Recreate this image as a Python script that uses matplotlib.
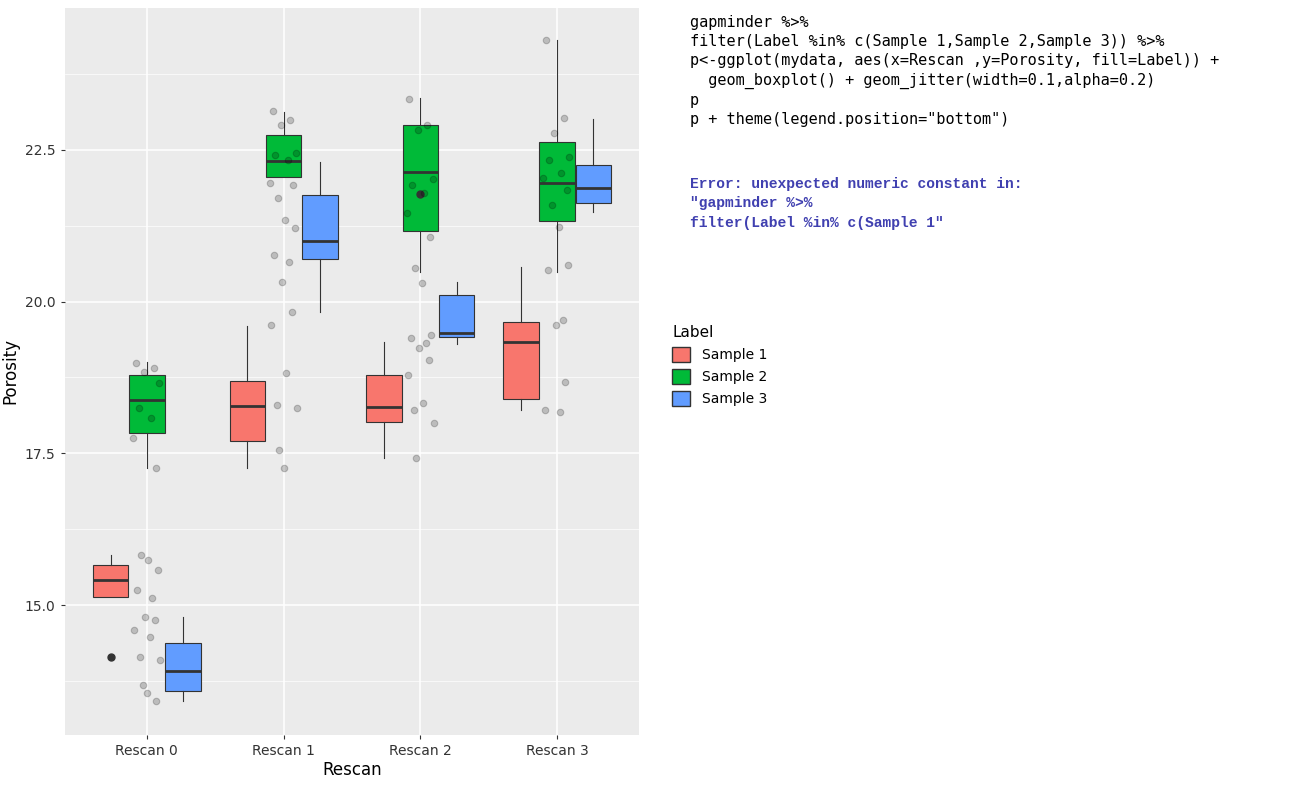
import numpy as np
import matplotlib.pyplot as plt
from matplotlib.patches import Patch

rescans = ["Rescan 0", "Rescan 1", "Rescan 2", "Rescan 3"]
labels = ["Sample 1", "Sample 2", "Sample 3"]
colors = ["#F8766D", "#00BA38", "#619CFF"]

# box stats per rescan, per sample: (whislo, q1, med, q3, whishi, outliers)
stats = {
    "Sample 1": [(15.13, 15.13, 15.41, 15.66, 15.82, [14.14]),
                 (17.26, 17.70, 18.28, 18.69, 19.60, []),
                 (17.42, 18.02, 18.26, 18.79, 19.34, []),
                 (18.21, 18.40, 19.33, 19.66, 20.57, [])],
    "Sample 2": [(17.26, 17.83, 18.38, 18.79, 19.00, []),
                 (22.05, 22.05, 22.32, 22.75, 23.13, []),
                 (20.49, 21.16, 22.14, 22.90, 23.36, [21.77]),
                 (20.49, 21.33, 21.96, 22.62, 24.31, [])],
    "Sample 3": [(13.42, 13.58, 13.91, 14.37, 14.80, []),
                 (19.83, 20.70, 21.00, 21.76, 22.30, []),
                 (19.30, 19.42, 19.48, 20.11, 20.32, []),
                 (21.48, 21.63, 21.87, 22.25, 23.01, [])],
}

jitter_y = [
    [18.99, 18.91, 18.84, 18.66, 18.25, 18.08, 17.75, 17.26, 15.82, 15.74, 15.58,
     15.25, 15.12, 14.80, 14.75, 14.59, 14.47, 14.14, 14.09, 13.68, 13.55, 13.42],
    [23.14, 22.99, 22.91, 22.45, 22.42, 22.33, 21.96, 21.92, 21.71, 21.35, 21.21,
     20.77, 20.65, 20.32, 19.83, 19.62, 18.82, 18.30, 18.25, 17.55, 17.26],
    [23.34, 22.91, 22.83, 22.01, 21.92, 21.79, 21.46, 21.07, 20.55, 20.31, 19.45,
     19.40, 19.32, 19.24, 19.04, 18.79, 18.33, 18.21, 18.00, 17.42],
    [24.31, 23.03, 22.78, 22.38, 22.33, 22.12, 22.04, 21.84, 21.59, 21.23, 20.60,
     20.52, 19.70, 19.62, 18.68, 18.21, 18.18],
]
jitter_dx = [-0.08, 0.05, -0.02, 0.09, -0.06, 0.03, -0.1, 0.07, -0.04, 0.01, 0.08,
             -0.07, 0.04, -0.01, 0.06, -0.09, 0.02, -0.05, 0.1, -0.03, 0.0, 0.07]

fig = plt.figure(figsize=(12.94, 8.01), dpi=100)
ax = fig.add_axes([0.050, 0.0824, 0.444, 0.908])
ax.set_facecolor("#EBEBEB")
for s in ax.spines.values():
    s.set_visible(False)

offsets = [-0.265, 0, 0.265]
for k, lab in enumerate(labels):
    bx = []
    for i, (lo, q1, med, q3, hi, fl) in enumerate(stats[lab]):
        bx.append(dict(whislo=lo, q1=q1, med=med, q3=q3, whishi=hi, fliers=fl))
    ax.bxp(bx, positions=[i + 1 + offsets[k] for i in range(4)], widths=0.26,
           patch_artist=True, showcaps=False,
           boxprops=dict(facecolor=colors[k], edgecolor="#333333", linewidth=0.8),
           medianprops=dict(color="#333333", linewidth=2),
           whiskerprops=dict(color="#333333", linewidth=0.8),
           flierprops=dict(marker="o", markerfacecolor="#333333", markeredgecolor="#333333",
                           markersize=5), zorder=2)

for i, ys in enumerate(jitter_y):
    xs = [i + 1 + jitter_dx[j % len(jitter_dx)] for j in range(len(ys))]
    ax.scatter(xs, ys, s=22, color="black", alpha=0.2, zorder=3, linewidths=0.8)

ax.set_xlim(0.4, 4.6)
ax.set_ylim(12.86, 24.84)
ax.set_xticks([1, 2, 3, 4])
ax.set_xticklabels(rescans)
ax.set_yticks([15.0, 17.5, 20.0, 22.5])
ax.set_yticklabels(["15.0", "17.5", "20.0", "22.5"])
ax.set_yticks([13.75, 16.25, 18.75, 21.25, 23.75], minor=True)
ax.grid(True, which="major", color="white", linewidth=1.1, zorder=0)
ax.grid(True, which="minor", axis="y", color="white", linewidth=0.5, zorder=0)
ax.set_axisbelow(True)
ax.tick_params(axis="both", which="both", colors="#333333", labelsize=10, length=3)
ax.tick_params(which="minor", length=0)
ax.set_xlabel("Rescan", fontsize=12, labelpad=2)
ax.set_ylabel("Porosity", fontsize=12)

handles = [Patch(facecolor=c, edgecolor="#333333") for c in colors]
fig.legend(handles, labels, title="Label", loc="upper left", bbox_to_anchor=(0.510, 0.61),
           frameon=False, fontsize=10, title_fontsize=11, handlelength=1.3, handleheight=1.3,
           alignment="left")

code = ['gapminder %>%',
        'filter(Label %in% c(Sample 1,Sample 2,Sample 3)) %>%',
        'p<-ggplot(mydata, aes(x=Rescan ,y=Porosity, fill=Label)) +',
        '  geom_boxplot() + geom_jitter(width=0.1,alpha=0.2)',
        'p',
        'p + theme(legend.position="bottom")']
for j, line in enumerate(code):
    fig.text(0.533, 1 - (22 + 19.5 * j) / 801, line, family="DejaVu Sans Mono",
             fontsize=11, va="center", color="black")
err = ['Error: unexpected numeric constant in:',
       '"gapminder %>%',
       'filter(Label %in% c(Sample 1"']
for j, line in enumerate(err):
    fig.text(0.533, 1 - (184 + 19.5 * j) / 801, line, family="Liberation Mono",
             fontsize=10.5, weight="bold", va="center", color="#4040B0")

fig.savefig("out.png")
